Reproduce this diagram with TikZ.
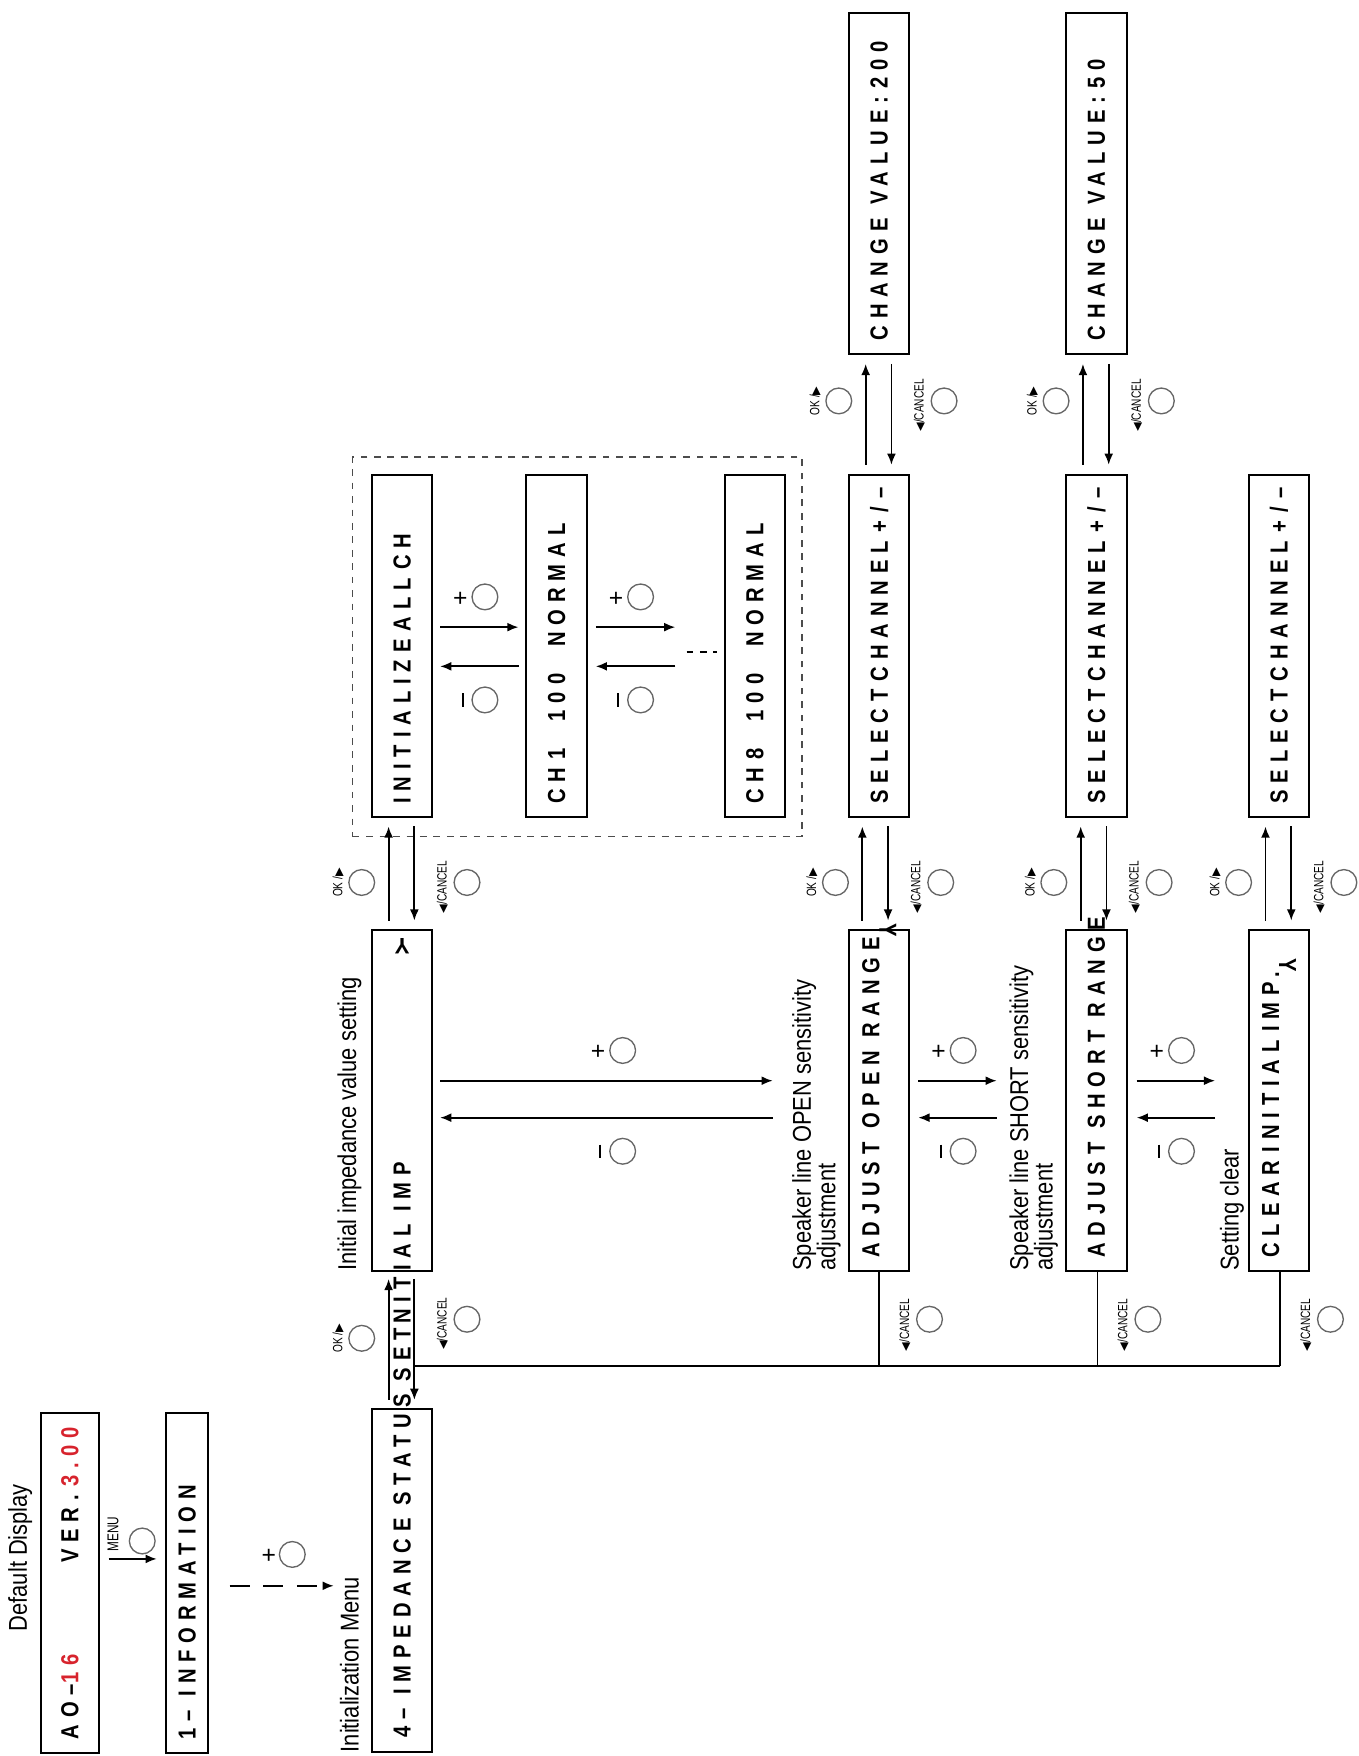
\documentclass[tikz,border=0pt]{standalone}
\usepackage{fontspec}
\usetikzlibrary{arrows.meta}
\setmainfont{Liberation Sans}
\newfontfamily\lcdf{Liberation Sans}[FakeStretch=0.82,LetterSpace=28]
\newfontfamily\labf{Liberation Sans}[FakeStretch=0.85]
\newfontfamily\smf{Liberation Sans}[FakeStretch=0.75]
\newfontfamily\dvf{DejaVu Sans}
\definecolor{lcdred}{RGB}{215,35,45}
\newcommand{\rd}[1]{\textcolor{lcdred}{#1}}
\newcommand{\gp}{\hspace{6pt}}
\newcommand{\yy}{\rotatebox{180}{Y}}
\begin{document}
\begin{tikzpicture}[x=0.5pt,y=-0.5pt,
  box/.style={draw,line width=0.9pt,rotate=90,inner xsep=6pt,inner ysep=0pt,minimum height=#1,align=left,
     font=\lcdf\bfseries\fontsize{11}{12}\selectfont},
  box/.default=27pt,
  lab/.style={rotate=90,anchor=west,inner sep=0pt,font=\labf\fontsize{11.5}{12}\selectfont},
  sm/.style={rotate=90,inner sep=0pt,font=\smf\fontsize{6}{7}\selectfont},
  btn/.style={circle,draw=black!60,line width=0.6pt,minimum size=11.5pt,inner sep=0pt},
  arr/.style={line width=0.8pt,-{Latex[length=5pt,width=4pt]}},
  pm/.style={inner sep=0pt,font=\fontsize{11}{12}\selectfont}]
\useasboundingbox (0,0) rectangle (1213,1568);
% ---------- labels
\node[lab] (lDef) at (18,1457) {Default Display};
\node[lab] (lIni) at (312,1565) {Initialization Menu};
\node[lab] (lImp) at (312,1135) {Initial impedance value setting};
\node[lab] (lOp1) at (718,1135) {Speaker line OPEN sensitivity};
\node[lab] (lOp2) at (740,1135) {adjustment};
\node[lab] (lSh1) at (912,1135) {Speaker line SHORT sensitivity};
\node[lab] (lSh2) at (934,1135) {adjustment};
\node[lab] (lClr) at (1100,1135) {Setting clear};
% ---------- boxes
\node[box=25.5pt,text width=139.5pt] (bDef) at (62.5,1413.5) {AO–\rd{16}\hfill VER.\ \rd{3.00}};
\node[box=19pt,text width=139.5pt] (bInf) at (167,1413.5) {\mbox{1–\gp INFORMAT ION}};
\node[box,text width=141pt] (bImp) at (359,1411.5) {};
\node[box,text width=140.5pt] (bIni) at (359,982.5) {};
\node[rotate=90,anchor=west,inner sep=0pt,font=\lcdf\bfseries\fontsize{11}{12}\selectfont] (tImp) at (359,1552)
  {4–\gp IMPEDANCE STATUS SET\,NITIAL IMP};
\node[rotate=180,inner sep=0pt,font=\bfseries\fontsize{10}{11}\selectfont] (yImp) at (359,845) {Y};
\node[box,text width=140.5pt] (bAll) at (359,577) {\mbox{INITIALIZE ALL CH}};
\node[box,text width=140.5pt] (bCh1) at (497,577) {\mbox{CH 1\gp\gp 100\gp\gp NORMAL}};
\node[box,text width=140.5pt] (bCh8) at (674,577) {\mbox{CH 8\gp\gp 100\gp\gp NORMAL}};
\node[box,text width=140.5pt] (bSel1) at (785,577) {\mbox{SELECT CHANNEL + / –}};
\node[box,text width=140pt] (bVal1) at (785,164) {\mbox{CHANGE\gp VALUE: 200}};
\node[box,text width=140.5pt] (bOpen) at (785,982.5) {\mbox{ADJUST\gp OPEN\gp RANGE\yy}};
\node[box,text width=140.5pt] (bSel2) at (979,577) {\mbox{SELECT CHANNEL + / –}};
\node[box,text width=140pt] (bVal2) at (979,164) {\mbox{CHANGE\gp VALUE: 50}};
\node[box,text width=140.5pt] (bShort) at (979,982.5) {\mbox{ADJUST\gp SHORT\gp RANGE}};
\node[box,text width=140.5pt] (bSel3) at (1142,577) {\mbox{SELECT CHANNEL + / –}};
\node[box,text width=140.5pt] (bClr) at (1142,982.5) {\mbox{CLEAR INITIAL IMP.\yy}};
% dashed group
\node[draw,dashed,black!70,line width=0.6pt,minimum width=200.5pt,minimum height=169.5pt,inner sep=0pt] (grp) at (515.5,577.5) {};
% ---------- MENU and + from information
\node[btn] (cMenu) at (127,1376) {};
\node[sm,font=\smf\fontsize{7}{8}\selectfont] (tMenu) at (101,1370) {MENU};
\draw[arr] (97,1392) -- (140,1392);
\draw[arr,dash pattern=on 9pt off 6pt] (205,1416) -- (298,1416);
\node[pm] (pA) at (240,1390) {+};
\node[btn] (cA) at (261,1388) {};
% ---------- OK / CANCEL pairs (vertical)
\newcommand{\okc}[6]{%
  \draw[arr] (#1,#3) -- (#1,#4);
  \draw[arr] (#2,#4) -- (#2,#3);
  \node[btn] at (#1-24,#5) {};
  \node[sm,anchor=center] at (#1-45,#5) {OK /{\dvf\tiny▶}};
  \node[btn] at (#2+47,#6) {};
  \node[sm,anchor=center] at (#2+25,#6+4) {{\dvf\tiny◀}/CANCEL};
}
\okc{347}{370}{1250}{1142}{1195}{1178}
\okc{347}{370}{822}{738}{788}{788}
\okc{770}{793}{822}{738}{788}{788}
\okc{965}{988}{822}{738}{788}{788}
\okc{1130}{1153}{822}{738}{788}{788}
\okc{773}{796}{415}{325}{358}{358}
\okc{967}{990}{415}{325}{358}{358}
\newcommand{\cnl}[1]{%
  \node[btn] at (#1+45,1178) {};
  \node[sm,anchor=center] at (#1+23,1183) {{\dvf\tiny◀}/CANCEL};}
\cnl{785}\cnl{980}\cnl{1143}
\draw[line width=0.8pt] (370,1220) -- (1143,1220);
\draw[line width=0.8pt] (785,1135) -- (785,1220);
\draw[line width=0.8pt] (980,1135) -- (980,1220);
\draw[line width=0.8pt] (1143,1135) -- (1143,1220);
% ---------- + / - horizontal pairs
\newcommand{\pmp}[5]{%
  \draw[arr] (#1,#3) -- (#2,#3);
  \draw[arr] (#2,#4) -- (#1,#4);
  \node[pm] at (#5-22,#3-25) {+};
  \node[btn] at (#5,#3-27) {};
  \draw[line width=0.9pt] (#5-20,#4+24) -- (#5-20,#4+36);
  \node[btn] at (#5,#4+30) {};
}
\pmp{393}{690}{965}{998}{556}
\pmp{820}{890}{965}{998}{860}
\pmp{1015}{1085}{965}{998}{1055}
\pmp{393}{463}{560}{595}{433}
\pmp{532}{603}{560}{595}{572}
\draw[line width=0.9pt,dash pattern=on 3pt off 3pt] (613,582) -- (640,582);
\end{tikzpicture}
\end{document}
